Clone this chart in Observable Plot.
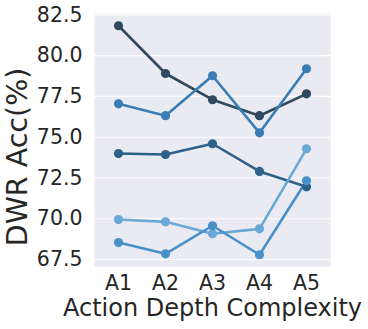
<!DOCTYPE html>
<html>
<head>
<meta charset="utf-8">
<script src="https://cdn.jsdelivr.net/npm/d3@7"></script>
<script src="https://cdn.jsdelivr.net/npm/@observablehq/plot@0.6"></script>
<style>
  html, body { margin: 0; padding: 0; background: #fff; }
  svg { font-family: "DejaVu Sans", sans-serif; }
</style>
</head>
<body>
<div id="chart"></div>
<script>
const categories = ["A1", "A2", "A3", "A4", "A5"];
const seriesNames = ["S1", "S2", "S3", "S4", "S5"];
const seriesColors = ["#2f4a5e", "#3a7db5", "#2e6189", "#6aa9d5", "#4891c8"];
const s1 = [81.84, 78.91, 77.30, 76.32, 77.66];
const s2 = [77.05, 76.32, 78.77, 75.27, 79.20];
const s3 = [74.00, 73.94, 74.60, 72.90, 71.96];
const s4 = [69.95, 69.81, 69.08, 69.38, 74.29];
const s5 = [68.54, 67.85, 69.57, 67.79, 72.33];
const yTicks = [67.5, 70.0, 72.5, 75.0, 77.5, 80.0, 82.5];

const allSeries = [s1, s2, s3, s4, s5];
const data = [];
allSeries.forEach((vals, i) => {
  vals.forEach((v, j) => data.push({series: seriesNames[i], cat: categories[j], value: v}));
});

const chart = Plot.plot({
  width: 368,
  height: 329,
  marginLeft: 94,
  marginRight: 38,
  marginTop: 13,
  marginBottom: 63,
  style: {fontFamily: "DejaVu Sans, sans-serif", background: "#fff", color: "#262626"},
  x: {type: "point", domain: categories, padding: 0.5, label: null, tickSize: 0},
  y: {domain: [67.07, 82.59], ticks: yTicks, tickFormat: d3.format(".1f"), label: null, tickSize: 0},
  color: {domain: seriesNames, range: seriesColors},
  marks: [
    Plot.frame({fill: "#eaeaf2", stroke: null}),
    Plot.ruleY(yTicks, {stroke: "#fff", strokeWidth: 1.2}),
    Plot.line(data, {x: "cat", y: "value", z: "series", stroke: "series", strokeWidth: 2.6}),
    Plot.dot(data, {x: "cat", y: "value", fill: "series", r: 4.6, stroke: null}),
    Plot.axisY({ticks: yTicks, tickFormat: d3.format(".1f"), tickSize: 0, tickPadding: 12, fontSize: 20.5, label: null}),
    Plot.axisX({tickSize: 0, tickPadding: 9, fontSize: 20.5, label: null}),
    Plot.text(["DWR Acc(%)"], {frameAnchor: "left", textAnchor: "middle", lineAnchor: "middle", dx: -77, dy: 17, rotate: -90, fontSize: 28.5, fill: "#262626"}),
    Plot.text(["Action Depth Complexity"], {frameAnchor: "bottom", textAnchor: "middle", lineAnchor: "middle", dy: 41.5, fontSize: 24, fill: "#262626"})
  ]
});
document.getElementById("chart").appendChild(chart);
</script>
</body>
</html>
